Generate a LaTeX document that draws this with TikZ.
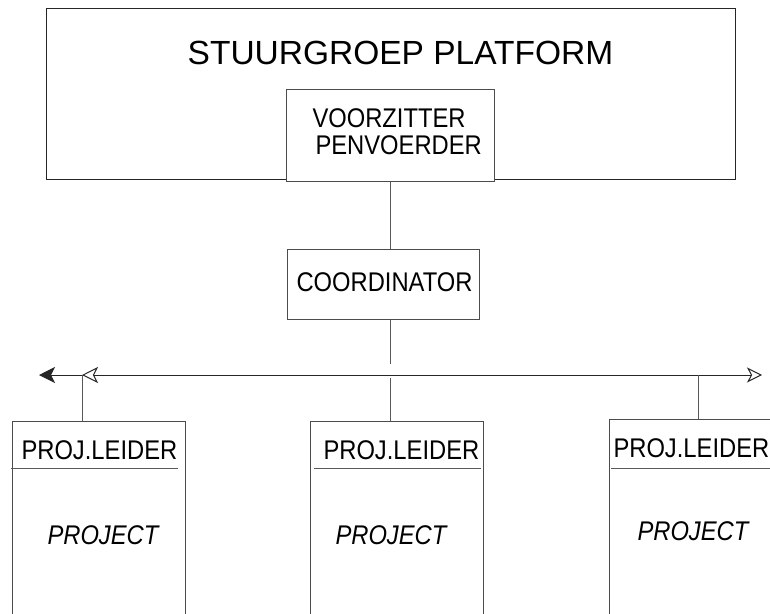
\documentclass[tikz,border=0pt]{standalone}
\usepackage{fontspec}
\setmainfont{Liberation Sans}
\newfontfamily\narrowsans[FakeStretch=0.88]{Liberation Sans}
\usetikzlibrary{arrows.meta,calc}
\begin{document}
\begin{tikzpicture}[x=1pt,y=-1pt,line width=1pt,
  box/.style={draw=black!70,fill=white,inner sep=0pt,anchor=north west},
  lbl/.style={font=\narrowsans\fontsize{27}{31}\selectfont,inner sep=0pt,anchor=base west},
  ilbl/.style={lbl,font=\narrowsans\itshape\fontsize{27}{31}\selectfont},
  conn/.style={draw=black!65},
  sepline/.style={draw=black!65},
  openhead/.style={-{Stealth[open,length=16pt,width=16pt,inset=4pt,fill=white]}}]
\useasboundingbox (0,0) rectangle (770,613);
\clip (0,0) rectangle (770,613);
\fill[white] (0,0) rectangle (770,613);
% steering group
\node[box,draw=black!85,minimum width=689pt,minimum height=171pt] (sg) at (46,8) {};
\node[font=\fontsize{33.5}{40}\selectfont,inner sep=0pt,anchor=base] (title) at (400.5,64) {STUURGROEP PLATFORM};
\node[box,minimum width=208pt,minimum height=92pt] (vz) at (286,89) {};
\node[lbl] (vzt1) at (312,127) {VOORZITTER};
\node[lbl] (vzt2) at (315,154) {PENVOERDER};
% coordinator
\node[box,minimum width=192pt,minimum height=70pt] (co) at (287,249) {};
\node[lbl] (cot) at (296,291) {COORDINATOR};
\draw[conn] (vz.south) -- (vz.south |- co.north);
\coordinate (cb) at (390,364);
\draw[conn] (cb |- co.south) -- (cb);
% horizontal bus
\coordinate (L) at (39,375);
\coordinate (R) at (762,375);
\coordinate (J1) at (82,375);
\coordinate (J1e) at (98,375);
\coordinate (J2) at (390,378);
\coordinate (J3) at (698,375);
\draw[draw=black!85,{Stealth[length=16pt,width=16pt,inset=4pt]}-{Stealth[open,length=15pt,width=15pt,inset=4pt,fill=white]}] (L) -- (R);
\draw[draw=black!85,openhead] (J1e) -- (J1);
% projects
\node[box,minimum width=173pt,minimum height=200pt] (p1) at (12,421) {};
\node[box,minimum width=173pt,minimum height=200pt] (p2) at (310,421) {};
\node[box,minimum width=200pt,minimum height=200pt] (p3) at (609,419) {};
\draw[conn] (J1) -- (J1 |- p1.north);
\draw[conn] (J2) -- (J2 |- p2.north);
\draw[conn] (J3) -- (J3 |- p3.north);
\coordinate (s1a) at (11,468); \coordinate (s1b) at (178,468);
\coordinate (s2a) at (314,468); \coordinate (s2b) at (481,468);
\coordinate (s3a) at (611,468); \coordinate (s3b) at (780,468);
\draw[sepline] (s1a) -- (s1b);
\draw[sepline] (s2a) -- (s2b);
\draw[sepline] (s3a) -- (s3b);
\node[lbl] (pl1) at (21,459) {PROJ.LEIDER};
\node[lbl] (pl2) at (323,459) {PROJ.LEIDER};
\node[lbl] (pl3) at (613,457) {PROJ.LEIDER};
\node[ilbl] (pr1) at (47,544) {PROJECT};
\node[ilbl] (pr2) at (335,544) {PROJECT};
\node[ilbl] (pr3) at (637,540) {PROJECT};
\end{tikzpicture}
\end{document}
